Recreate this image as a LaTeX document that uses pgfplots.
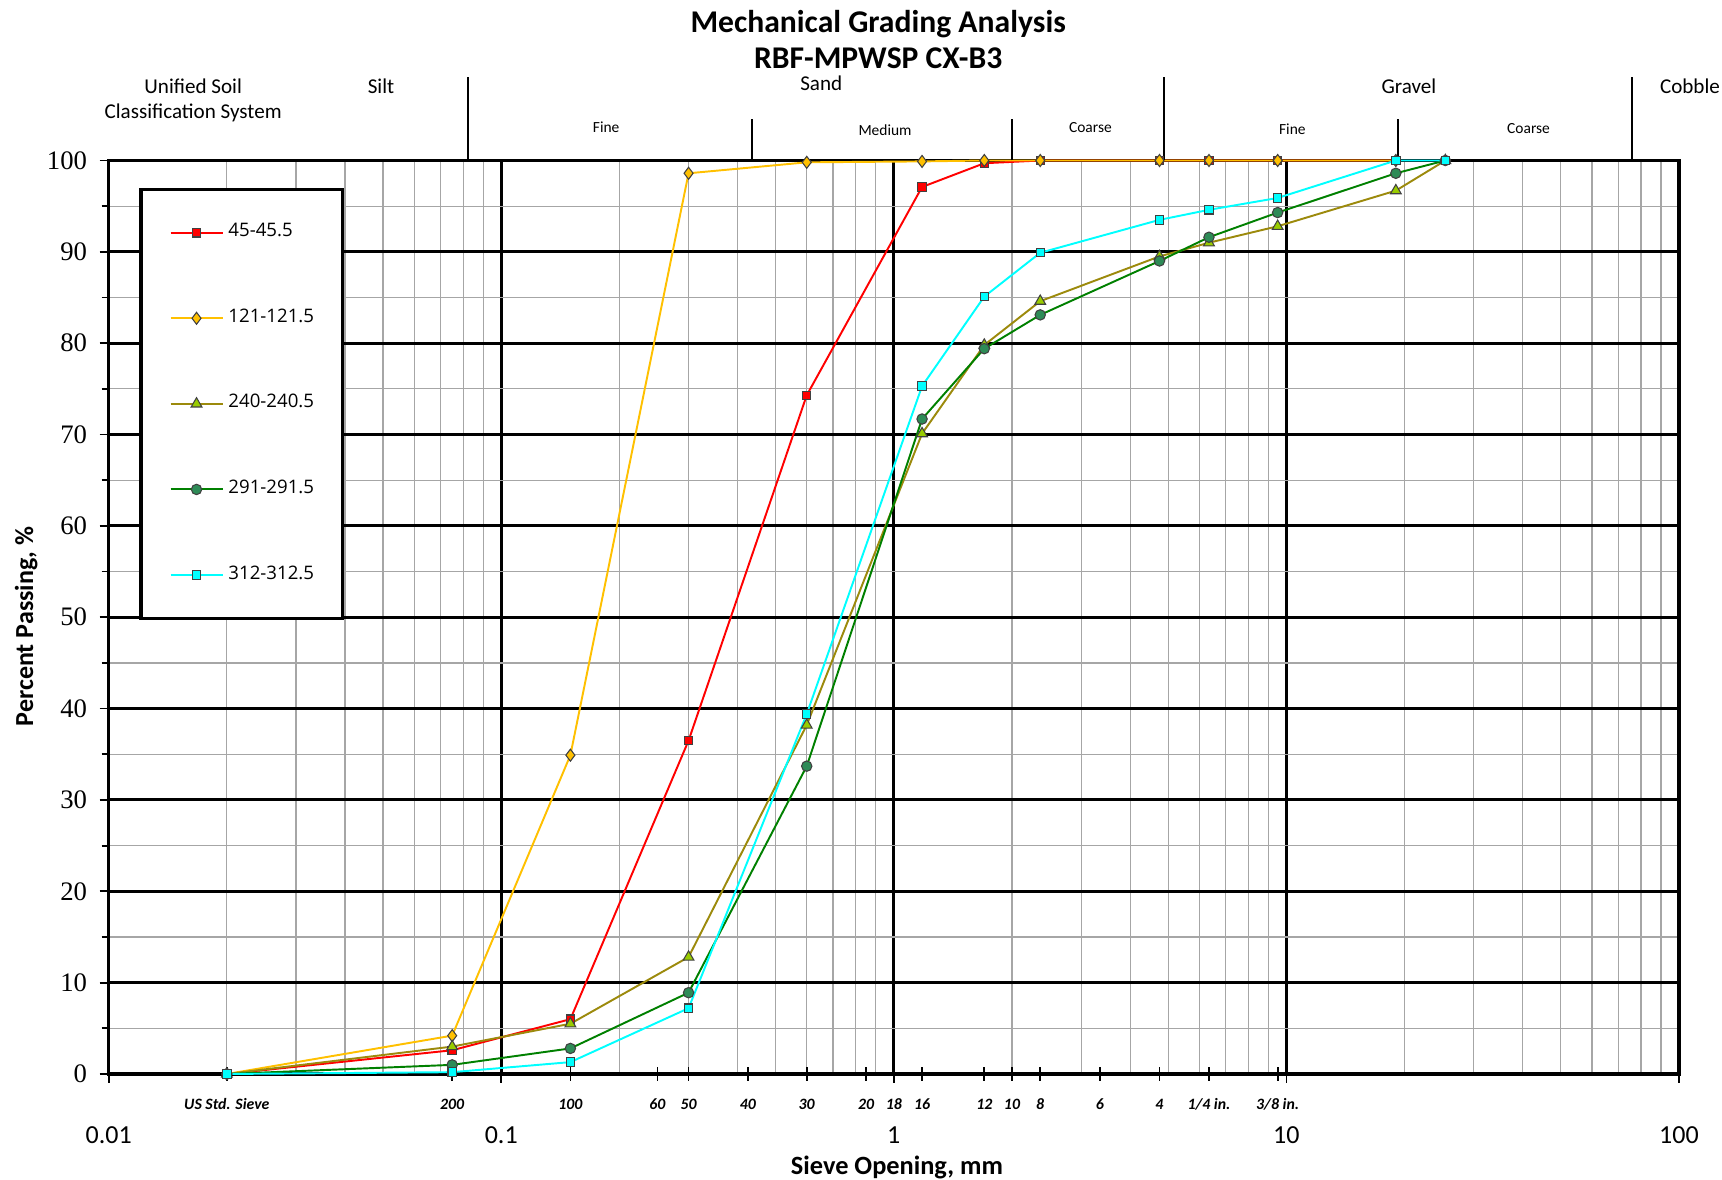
\documentclass[border=0pt]{standalone}
\usepackage{fontspec}
\usepackage{pgfplots}
\pgfplotsset{compat=1.18}
\setmainfont{Carlito}
\newfontfamily\tnr{Liberation Serif}
\newfontfamily\osans{Open Sans}
\definecolor{cRed}{HTML}{FF0000}
\definecolor{cGold}{HTML}{FFC000}
\definecolor{cOlive}{HTML}{9C8A0C}
\definecolor{cOliveFill}{HTML}{99CC00}
\definecolor{cGreen}{HTML}{008000}
\definecolor{cGreenFill}{HTML}{2E8B57}
\definecolor{cCyan}{HTML}{00FFFF}
\definecolor{gridgray}{HTML}{A6A6A6}
\definecolor{markborder}{HTML}{404040}
\begin{document}
\begin{tikzpicture}
\begin{axis}[
  scale only axis, width=157.03mm, height=91.35mm,
  xmode=log, xmin=0.01, xmax=100, ymin=0, ymax=100,
  clip=false,
  xtick={0.01,0.1,1,10,100},
  xticklabels={0.01,0.1,1,10,100},
  minor xtick={0.02,0.03,0.04,0.05,0.06,0.07,0.08,0.09,0.2,0.3,0.4,0.5,0.6,0.7,0.8,0.9,2,3,4,5,6,7,8,9,20,30,40,50,60,70,80,90},
  ytick={0,10,20,30,40,50,60,70,80,90,100},
  yticklabels={0,10,20,30,40,50,60,70,80,90,100},
  minor ytick={5,15,...,95},
  grid=both,
  major grid style={black, line width=0.85pt},
  minor grid style={gridgray, line width=0.35pt},
  tick align=outside,
  major tick length=0.9mm,
  minor tick length=0.7mm,
  tick style={black, line width=0.5pt},
  every minor x tick/.style={draw=none},
  xtick pos=bottom, ytick pos=left,
  axis line style={black, line width=0.9pt},
  xticklabel style={font=\fontsize{7.4}{8}\selectfont, anchor=center, yshift=-5.23mm},
  yticklabel style={font=\tnr\fontsize{7.6}{8}\selectfont, inner sep=0pt, xshift=-1.2mm},
  extra x ticks={0.02,0.075,0.15,0.25,0.3,0.425,0.6,0.85,1,1.18,1.7,2,2.36,3.35,4.75,6.35,9.5},
  extra x tick labels={US Std. Sieve,200,100,60,50,40,30,20,18,16,12,10,8,6,4,1/4 in.,3/8 in.},
  extra x tick style={grid=none, tick align=center, major tick length=1.4mm,
    every x tick label/.style={font=\fontsize{4.5}{5}\selectfont\bfseries\itshape, anchor=center, yshift=-2.3mm}},
  xlabel={Sieve Opening, mm},
  ylabel={Percent Passing, \%},
  xlabel style={at={(rel axis cs:0.502,-0.1022)}, anchor=center, font=\fontsize{7.5}{9}\selectfont\bfseries},
  ylabel style={at={(rel axis cs:-0.0525,0.49)}, anchor=center, font=\fontsize{7.4}{9}\selectfont\bfseries},
  legend cell align=left,
  legend image code/.code={\draw[mark repeat=2,mark phase=2] plot coordinates {(0mm,0mm) (2.6mm,0mm) (5.2mm,0mm)};},
  legend style={at={(rel axis cs:0.0196,0.970)}, anchor=north west, draw=black, line width=0.9pt, fill=white,
    font=\fontsize{5.3}{6}\selectfont\osans, inner xsep=2.85mm, inner ysep=3.4mm, row sep=6.68mm, column sep=0.5mm,
    nodes={inner sep=0pt}},
]
\addplot[color=cRed, line width=0.55pt, mark=square*, mark size=0.42mm, mark options={fill=cRed, draw=markborder, line width=0.3pt}]
 coordinates {(0.02,0) (0.075,2.6) (0.15,6.0) (0.3,36.5) (0.6,74.3) (1.18,97.1) (1.7,99.7) (2.36,100) (4.75,100) (6.35,100) (9.5,100) (19.0,100)};
\addlegendentry{45-45.5}
\addplot[color=cGold, line width=0.55pt, mark=diamond*, mark size=0.6mm, mark options={fill=cGold, draw=markborder, line width=0.3pt}]
 coordinates {(0.02,0) (0.075,4.2) (0.15,34.9) (0.3,98.6) (0.6,99.8) (1.18,99.9) (1.7,100) (2.36,100) (4.75,100) (6.35,100) (9.5,100) (19.0,100)};
\addlegendentry{121-121.5}
\addplot[color=cOlive, line width=0.55pt, mark=triangle*, mark size=0.62mm, mark options={fill=cOliveFill, draw=markborder, line width=0.3pt}]
 coordinates {(0.02,0) (0.075,3.0) (0.15,5.5) (0.3,12.8) (0.6,38.2) (1.18,70.1) (1.7,79.8) (2.36,84.6) (4.75,89.5) (6.35,91.0) (9.5,92.8) (19.0,96.7) (25.4,100)};
\addlegendentry{240-240.5}
\addplot[color=cGreen, line width=0.55pt, mark=*, mark size=0.52mm, mark options={fill=cGreenFill, draw=markborder, line width=0.3pt}]
 coordinates {(0.02,0) (0.075,1.0) (0.15,2.8) (0.3,8.9) (0.6,33.7) (1.18,71.7) (1.7,79.4) (2.36,83.1) (4.75,89.0) (6.35,91.6) (9.5,94.3) (19.0,98.6) (25.4,100)};
\addlegendentry{291-291.5}
\addplot[color=cCyan, line width=0.55pt, mark=square*, mark size=0.42mm, mark options={fill=cCyan, draw=markborder, line width=0.3pt}]
 coordinates {(0.02,0) (0.075,0.2) (0.15,1.3) (0.3,7.2) (0.6,39.4) (1.18,75.3) (1.7,85.1) (2.36,89.9) (4.75,93.5) (6.35,94.6) (9.5,95.9) (19.0,100) (25.4,100)};
\addlegendentry{312-312.5}
% classification header
\draw[black, line width=0.6pt] (rel axis cs:0.2287,1) -- (rel axis cs:0.2287,1.0913);
\draw[black, line width=0.6pt] (rel axis cs:0.6720,1) -- (rel axis cs:0.6720,1.0913);
\draw[black, line width=0.6pt] (rel axis cs:0.9699,1) -- (rel axis cs:0.9699,1.0913);
\draw[black, line width=0.6pt] (rel axis cs:0.4098,1) -- (rel axis cs:0.4098,1.0457);
\draw[black, line width=0.6pt] (rel axis cs:0.5755,1) -- (rel axis cs:0.5755,1.0457);
\draw[black, line width=0.6pt] (rel axis cs:0.8210,1) -- (rel axis cs:0.8210,1.0457);
\begin{scope}[every node/.style={font=\fontsize{6}{7}\selectfont, inner sep=0pt, anchor=center}]
\node at (rel axis cs:0.0538,1.0817) {Unified Soil};
\node at (rel axis cs:0.0538,1.0520) {Classification System};
\node at (rel axis cs:0.1734,1.0817) {Silt};
\node at (rel axis cs:0.4538,1.0841) {Sand};
\node at (rel axis cs:0.8280,1.0817) {Gravel};
\node at (rel axis cs:1.0070,1.0817) {Cobble};
\end{scope}
\begin{scope}[every node/.style={font=\fontsize{4.4}{5}\selectfont, inner sep=0pt, anchor=center}]
\node at (rel axis cs:0.3168,1.0361) {Fine};
\node at (rel axis cs:0.4944,1.0337) {Medium};
\node at (rel axis cs:0.6252,1.0361) {Coarse};
\node at (rel axis cs:0.7538,1.0337) {Fine};
\node at (rel axis cs:0.9042,1.0349) {Coarse};
\end{scope}
\node[font=\fontsize{9}{11}\selectfont\bfseries, inner sep=0pt, anchor=center] at (rel axis cs:0.490,1.1490) {Mechanical Grading Analysis};
\node[font=\fontsize{9}{11}\selectfont\bfseries, inner sep=0pt, anchor=center] at (rel axis cs:0.490,1.1118) {RBF-MPWSP CX-B3};
\end{axis}
\pgfresetboundingbox
\path[use as bounding box] (-10.87mm,-10.6mm) rectangle (161.33mm,107.4mm);
\end{tikzpicture}
\end{document}
